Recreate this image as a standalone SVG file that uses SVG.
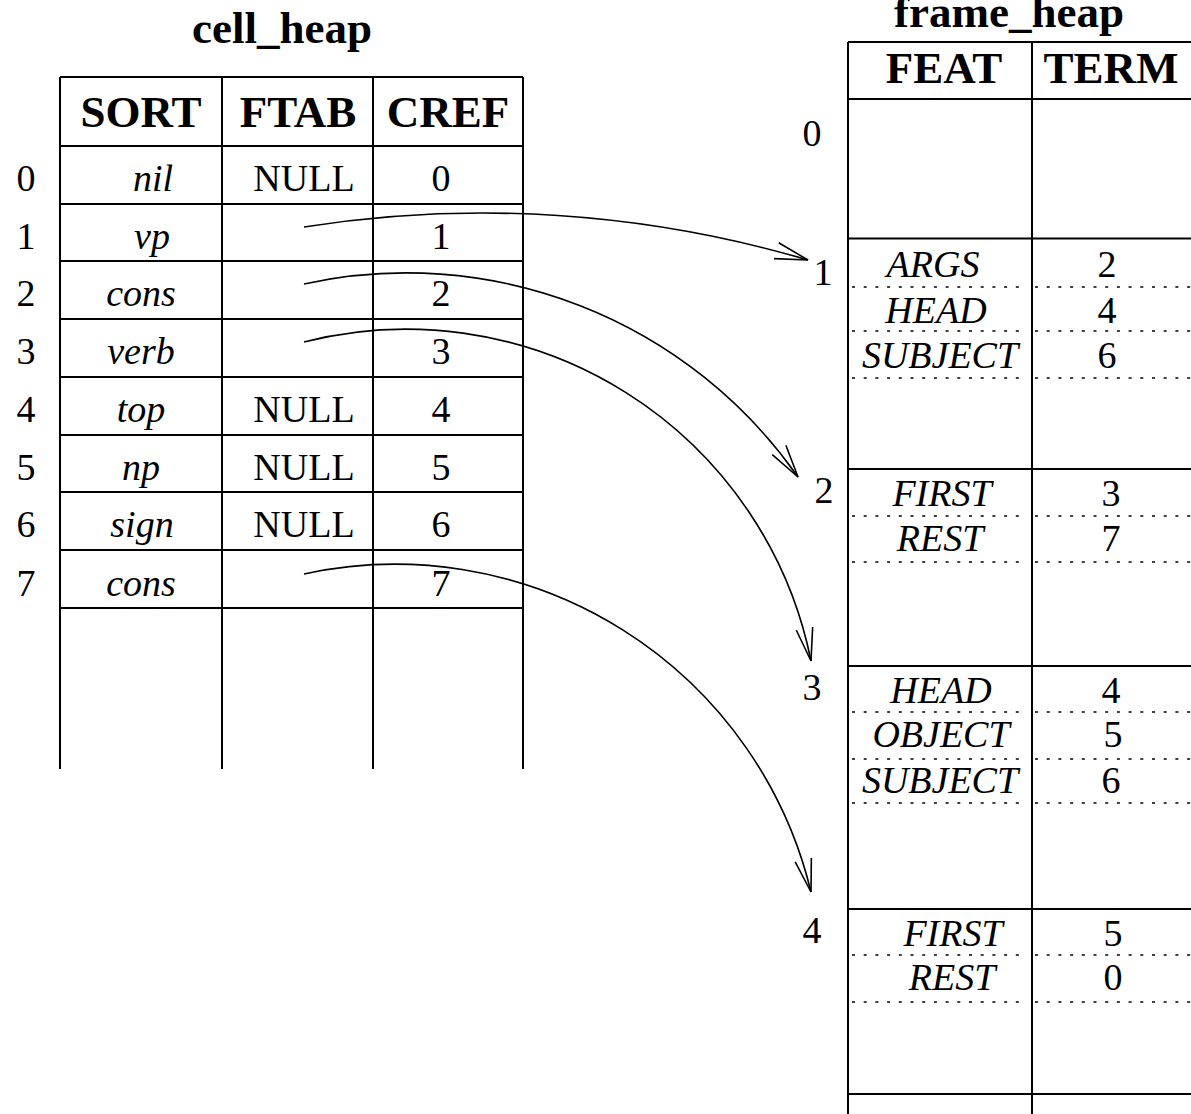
<svg xmlns="http://www.w3.org/2000/svg" width="1191" height="1114" viewBox="0 0 1191 1114">
  <style>
    .grid { stroke: #000; stroke-width: 2; fill: none; }
    .dot { stroke: #000; stroke-width: 1.6; stroke-dasharray: 3 8.7; fill: none; }
    .link { stroke: #000; stroke-width: 1.6; fill: none; marker-end: url(#open); }
    text { font-family: "Liberation Serif", "Times New Roman", serif; fill: #000; text-anchor: middle; }
    .title { font-size: 45px; font-weight: bold; }
    .hd { font-size: 45px; font-weight: bold; }
    .c { font-size: 38px; }
    .i { font-size: 38px; font-style: italic; }
  </style>
  <defs>
    <marker id="open" markerUnits="userSpaceOnUse" markerWidth="40" markerHeight="24" refX="0" refY="0" viewBox="-36 -12 40 24" orient="auto" overflow="visible">
      <path d="M-33,-8.3 L0,0 L-33,8.3" fill="none" stroke="#000" stroke-width="1.6"/>
    </marker>
  </defs>
  <rect width="1191" height="1114" fill="#fff"/>

  <!-- cell heap table -->
  <g id="cell_heap">
    <text class="title" x="282" y="43">cell_heap</text>
    <path class="grid" d="M60,77 H523 M60,146 H523 M60,204 H523 M60,261 H523 M60,319 H523 M60,377 H523 M60,435 H523 M60,492 H523 M60,550 H523 M60,608 H523 M60,77 V769 M222,77 V769 M373,77 V769 M523,77 V769"/>
    <g id="cell_heap_header">
      <text class="hd" x="141" y="127">SORT</text>
      <text class="hd" x="298" y="127">FTAB</text>
      <text class="hd" x="448" y="127">CREF</text>
    </g>
    <g id="cell_0"><text class="c" x="26" y="191">0</text><text class="i" x="153" y="191">nil</text><text class="c" x="304" y="191">NULL</text><text class="c" x="441" y="191">0</text></g>
    <g id="cell_1"><text class="c" x="26" y="249">1</text><text class="i" x="152" y="249">vp</text><text class="c" x="441" y="249">1</text></g>
    <g id="cell_2"><text class="c" x="26" y="306">2</text><text class="i" x="141" y="306">cons</text><text class="c" x="441" y="306">2</text></g>
    <g id="cell_3"><text class="c" x="26" y="364">3</text><text class="i" x="141" y="364">verb</text><text class="c" x="441" y="364">3</text></g>
    <g id="cell_4"><text class="c" x="26" y="422">4</text><text class="i" x="141" y="422">top</text><text class="c" x="304" y="422">NULL</text><text class="c" x="441" y="422">4</text></g>
    <g id="cell_5"><text class="c" x="26" y="480">5</text><text class="i" x="141" y="480">np</text><text class="c" x="304" y="480">NULL</text><text class="c" x="441" y="480">5</text></g>
    <g id="cell_6"><text class="c" x="26" y="537">6</text><text class="i" x="142" y="537">sign</text><text class="c" x="304" y="537">NULL</text><text class="c" x="441" y="537">6</text></g>
    <g id="cell_7"><text class="c" x="26" y="596">7</text><text class="i" x="141" y="596">cons</text><text class="c" x="441" y="596">7</text></g>
  </g>

  <!-- frame heap table -->
  <g id="frame_heap">
    <text class="title" x="1009" y="27">frame_heap</text>
    <path class="grid" d="M848,42 H1191 M848,99 H1191 M848,238.5 H1191 M848,469 H1191 M848,666 H1191 M848,909 H1191 M848,1094 H1191 M848,42 V1114 M1032,42 V1114"/>
    <g id="frame_heap_header">
      <text class="hd" x="944" y="83">FEAT</text>
      <text class="hd" x="1111" y="83">TERM</text>
    </g>
    <g id="frame_0">
      <text class="c" x="812" y="146">0</text>
    </g>
    <g id="frame_1">
      <text class="c" x="823" y="285">1</text>
      <text class="i" x="933" y="277">ARGS</text><text class="c" x="1107" y="277">2</text>
      <text class="i" x="936" y="323">HEAD</text><text class="c" x="1107" y="323">4</text>
      <text class="i" x="940" y="368">SUBJECT</text><text class="c" x="1107" y="368">6</text>
      <path class="dot" d="M852,287 H1022 M1035,287 H1191 M852,331 H1022 M1035,331 H1191 M852,378 H1022 M1035,378 H1191"/>
    </g>
    <g id="frame_2">
      <text class="c" x="824" y="503">2</text>
      <text class="i" x="942" y="506">FIRST</text><text class="c" x="1111" y="506">3</text>
      <text class="i" x="940" y="551">REST</text><text class="c" x="1111" y="551">7</text>
      <path class="dot" d="M852,516 H1022 M1035,516 H1191 M852,562 H1022 M1035,562 H1191"/>
    </g>
    <g id="frame_3">
      <text class="c" x="812" y="700">3</text>
      <text class="i" x="941" y="703">HEAD</text><text class="c" x="1111" y="703">4</text>
      <text class="i" x="941" y="747">OBJECT</text><text class="c" x="1113" y="747">5</text>
      <text class="i" x="940" y="793">SUBJECT</text><text class="c" x="1111" y="793">6</text>
      <path class="dot" d="M852,712 H1022 M1035,712 H1191 M852,759 H1022 M1035,759 H1191 M852,803 H1022 M1035,803 H1191"/>
    </g>
    <g id="frame_4">
      <text class="c" x="812" y="943">4</text>
      <text class="i" x="953" y="946">FIRST</text><text class="c" x="1113" y="946">5</text>
      <text class="i" x="952" y="990">REST</text><text class="c" x="1113" y="990">0</text>
      <path class="dot" d="M852,955 H1022 M1035,955 H1191 M852,1002 H1022 M1035,1002 H1191"/>
    </g>
  </g>

  <!-- FTAB pointers into the frame heap -->
  <g id="connectors">
    <path class="link" d="M304,227 A1150,1150 0 0 1 808,260"/>
    <path class="link" d="M304,284 A478,478 0 0 1 798,477"/>
    <path class="link" d="M304,342 A413,413 0 0 1 811,661"/>
    <path class="link" d="M304,574 A428,428 0 0 1 811,892"/>
  </g>
</svg>
